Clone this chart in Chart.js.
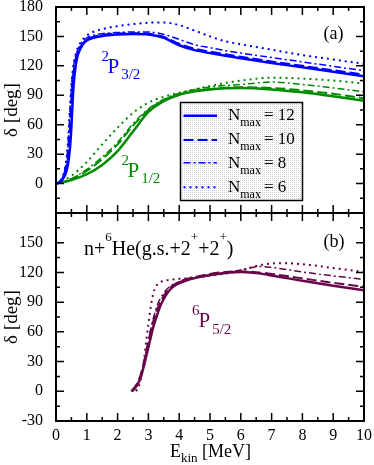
<!DOCTYPE html>
<html><head><meta charset="utf-8">
<script src="https://cdn.jsdelivr.net/npm/chart.js@4/dist/chart.umd.min.js"></script>
<style>
html,body{margin:0;padding:0;background:#fff;}
#wrap{position:relative;width:374px;height:465px;background:#fff;}
canvas{position:absolute;left:0;top:0;}
</style></head><body>
<div id="wrap"><canvas id="ca" width="374" height="465"></canvas><canvas id="cb" width="374" height="465"></canvas></div>
<script>
// ---------- data ----------
const xTicks = [0,1,2,3,4,5,6,7,8,9,10];
const yTicks = [-30,0,30,60,90,120,150,180];

// panel (a) 2P3/2 (blue)
const eBlue   = [0,0.1,0.2,0.3,0.35,0.4,0.45,0.5,0.55,0.6,0.65,0.7,0.8,0.9,1.0,1.2,1.5,2,2.5,3,3.5,4,4.5,5,5.5,6,7,8,9,10];
const p32_n12 = [0,1,4,9,14,22,35,58,90,110,122,130,138,143,146,148.5,150.5,152,152.5,152,148.5,141,136,133,130.3,127.8,123,118.5,114,109.5];
const p32_n10 = [0,1.2,5,12,19,32,55,85,108,120,128,134,140,144,147,149.5,151.5,153,153.3,152.8,149.5,142.5,137.5,134.5,131.8,129.3,124.5,120,115.5,111];
const p32_n8  = [0,1.5,6,16,26,45,72,98,115,125,131,136,142,146,148.5,151,152.8,154,154.5,154.5,152,147,141.5,138.5,135.5,133,128.5,124,119.5,115];
const p32_n6  = [0,1.5,6,17,28,48,75,100,117,127,133,138,144,148,151,154.5,157.5,160.5,162.5,164,164.3,161.5,156,150,145,142,136.5,131,126.5,122];

// panel (a) 2P1/2 (green)
const eGreen  = [0,0.5,1,1.5,2,2.5,3,3.5,4,4.5,5,5.5,6,7,8,9,10];
const p12_n12 = [0,3.5,9.5,19,33,53,73,84,90.5,94,96,97.2,97.5,96,93,89,84.5];
const p12_n10 = [0,4.5,13,25,40,59,75,85,91,94.5,96.5,97.8,98.2,97.5,95,91.5,87];
const p12_n8  = [0,5,14.5,27,42,61,76,86,92,96,98.5,100,101,103.5,101,97.5,93.5];
const p12_n6  = [0,8,22,40,57,72,82.5,88.5,92.5,96,99.5,102.5,105,108,107,105,102];

// panel (b) 6P5/2 (maroon)
const ePurple = [2.45,2.55,2.65,2.75,2.85,2.95,3.05,3.15,3.25,3.4,3.55,3.7,3.9,4.2,4.6,5,5.5,6,6.5,7,8,9,10];
const p52_n12 = [0,3,7,14,25,38,51,64,74,87,96,102.5,107.5,111.5,115,117.5,119.5,120.5,119.3,117,111.5,106.5,102];
const p52_n10 = [0,4,9,17,29,43,57,70,80,91,99,104.5,109,113,116,118.5,120.5,121,120.2,118.5,114,109.5,105.5];
const eP8     = [2.5,2.6,2.7,2.8,2.9,3.0,3.1,3.2,3.3,3.45,3.6,3.8,4.0,4.3,4.6,5,5.5,6,6.3,6.6,7,8,9,10];
const p52_n8  = [0,4,11,22,36,51,66,78,88,97,103,108,110.5,113,115,117.5,120,122.5,124.5,126,125,120.5,116.5,113];
const eP6     = [2.6,2.7,2.78,2.85,2.92,3.0,3.08,3.16,3.25,3.35,3.5,3.75,4,4.5,5,5.5,6,6.5,7,7.5,8,9,10];
const p52_n6  = [0,6,16,30,48,68,86,99,106,109.5,111.5,112.8,113.5,115,116.8,118.8,122,126.5,129,129.3,128.3,124.5,120.5];

const legendLabels = ['12','10','8','6'];

// ---------- styles ----------
const FONT = '"Liberation Serif", "Times New Roman", serif';
const BLUE = '#0000ff', GREEN = '#008b00', MAROON = '#670748';
const STYLES = [
  {w:2.5, dash:[]},
  {w:2,   dash:[10,4]},
  {w:1.5, dash:[7,3,2,3]},
  {w:2,   dash:[2,4]}
];

function pts(xs, ys){ return xs.map((x,i)=>({x:x, y:ys[i]})); }
function ds(xs, ys, color, k){
  return {data: pts(xs, ys), borderColor: color, borderWidth: STYLES[k].w, borderDash: STYLES[k].dash,
          pointRadius: 0, fill: false, cubicInterpolationMode: 'monotone', borderCapStyle: 'butt'};
}

function rich(ctx, x, y, parts, color){
  ctx.fillStyle = color; ctx.textBaseline = 'alphabetic'; ctx.textAlign = 'left';
  let cx = x;
  for (const p of parts){
    ctx.font = p.s + 'px ' + FONT;
    cx += (p.dx || 0);
    ctx.fillText(p.t, cx, y + (p.dy || 0));
    cx += ctx.measureText(p.t).width;
  }
}

const frameTicks = {
  id: 'frameTicks',
  afterDatasetsDraw(chart){
    const {ctx, chartArea: a, scales: {x, y}} = chart;
    ctx.save();
    ctx.strokeStyle = '#000'; ctx.lineWidth = 1.5; ctx.setLineDash([]);
    ctx.beginPath();
    for (let i = 0; i <= 20; i++){
      const v = i * 0.5, px = x.getPixelForValue(v), L = (i % 2 === 0) ? 8 : 4;
      ctx.moveTo(px, a.bottom); ctx.lineTo(px, a.bottom - L);
      ctx.moveTo(px, a.top); ctx.lineTo(px, a.top + L);
    }
    for (let v = -30; v <= 180; v += 15){
      const py = y.getPixelForValue(v), L = (v % 30 === 0) ? 8 : 4;
      ctx.moveTo(a.left, py); ctx.lineTo(a.left + L, py);
      ctx.moveTo(a.right, py); ctx.lineTo(a.right - L, py);
    }
    ctx.stroke();
    ctx.lineWidth = 2;
    ctx.strokeRect(a.left, a.top, a.right - a.left, a.bottom - a.top);
    ctx.restore();
  }
};

function makePattern(){
  const c = document.createElement('canvas'); c.width = 2; c.height = 2;
  const g = c.getContext('2d');
  g.fillStyle = '#fff'; g.fillRect(0,0,2,2);
  g.fillStyle = '#cfcfcf'; g.fillRect(0,0,1,1);
  return c;
}

const annotA = {
  id: 'annotA',
  afterDraw(chart){
    const ctx = chart.ctx;
    ctx.save();
    ctx.fillStyle = ctx.createPattern(makePattern(), 'repeat');
    ctx.fillRect(180.5, 102.5, 122, 98);
    ctx.strokeStyle = '#000'; ctx.lineWidth = 1.5;
    ctx.strokeRect(180.5, 102.5, 122, 98);
    const lineY = [115.7, 140, 162.7, 187.3];
    const textY = [120, 144.3, 168.3, 191.7];
    for (let k = 0; k < 4; k++){
      ctx.strokeStyle = BLUE; ctx.lineWidth = STYLES[k].w; ctx.setLineDash(STYLES[k].dash);
      ctx.beginPath(); ctx.moveTo(183.5, lineY[k]); ctx.lineTo(217, lineY[k]); ctx.stroke();
      ctx.setLineDash([]);
      rich(ctx, 228, textY[k], [{t:'N', s:17}, {t:'max', s:12, dy:6, dx:0}, {t:'= ' + legendLabels[k], s:17, dx:3}], '#000');
    }
    ctx.fillStyle = '#000'; ctx.font = '18px ' + FONT;
    ctx.fillText('(a)', 323.5, 38.5);
    rich(ctx, 101.5, 73.3, [{t:'2', s:15, dy:-12}, {t:'P', s:21, dx:-1.5}, {t:'3/2', s:15, dy:6, dx:2}], BLUE);
    rich(ctx, 121.5, 176.7, [{t:'2', s:15, dy:-12}, {t:'P', s:21, dx:-1.5}, {t:'1/2', s:15, dy:6, dx:2}], GREEN);
    ctx.restore();
  }
};

const annotB = {
  id: 'annotB',
  afterDraw(chart){
    const ctx = chart.ctx;
    ctx.save();
    ctx.fillStyle = '#000'; ctx.font = '18px ' + FONT;
    ctx.fillText('(b)', 323.5, 246.5);
    rich(ctx, 84, 255, [{t:'n+', s:20}, {t:'6', s:13, dy:-14}, {t:'He(g.s.+2', s:20}, {t:'+', s:13, dy:-14}, {t:'+2', s:20}, {t:'+', s:13, dy:-14}, {t:')', s:20}], '#000');
    rich(ctx, 192, 326.7, [{t:'6', s:15, dy:-12}, {t:'P', s:21, dx:-1}, {t:'5/2', s:15, dy:7, dx:2}], MAROON);
    rich(ctx, 170, 457, [{t:'E', s:18}, {t:'kin', s:13, dy:5}, {t:' [MeV]', s:18}], '#000');
    ctx.restore();
  }
};

function options(panel){
  return {
    responsive: false, animation: false, devicePixelRatio: 1,
    layout: {padding: panel === 'a' ? {top:7, bottom:252, left:0, right:10} : {top:213, bottom:0, left:0, right:10}},
    plugins: {legend: {display:false}, tooltip: {enabled:false}},
    scales: {
      x: {type:'linear', min:0, max:10, display: panel === 'b',
          grid:{display:false}, border:{display:false},
          afterBuildTicks: (s) => { s.ticks = xTicks.map(v => ({value: v})); },
          ticks:{padding:-3, color:'#000', font:{family:FONT, size:16}, maxRotation:0, autoSkip:false},
          afterFit: (s) => { if (panel === 'b') s.height = 44; else s.height = 0; s.paddingLeft = 0; s.paddingRight = 0; }},
      y: {type:'linear', min:-30, max:180,
          grid:{display:false}, border:{display:false},
          afterBuildTicks: (s) => { s.ticks = yTicks.map(v => ({value: v})); },
          ticks:{padding:5, color:'#000', font:{family:FONT, size:16}, autoSkip:false,
                 callback: (v) => (panel === 'a' && v === -30) || (panel === 'b' && v === 180) ? '' : String(v)},
          title:{display:true, text:'δ [deg]', color:'#000', font:{family:FONT, size:19}, padding:{top:1, bottom:0}},
          afterFit: (s) => { s.width = 56; s.paddingTop = 0; s.paddingBottom = 0; }}
    }
  };
}

new Chart(document.getElementById('ca'), {
  type: 'line',
  data: {datasets: [
    ds(eBlue, p32_n12, BLUE, 0), ds(eBlue, p32_n10, BLUE, 1), ds(eBlue, p32_n8, BLUE, 2), ds(eBlue, p32_n6, BLUE, 3),
    ds(eGreen, p12_n12, GREEN, 0), ds(eGreen, p12_n10, GREEN, 1), ds(eGreen, p12_n8, GREEN, 2), ds(eGreen, p12_n6, GREEN, 3)
  ]},
  options: options('a'),
  plugins: [frameTicks, annotA]
});

new Chart(document.getElementById('cb'), {
  type: 'line',
  data: {datasets: [
    ds(ePurple, p52_n12, MAROON, 0), ds(ePurple, p52_n10, MAROON, 1), ds(eP8, p52_n8, MAROON, 2), ds(eP6, p52_n6, MAROON, 3)
  ]},
  options: options('b'),
  plugins: [frameTicks, annotB]
});
</script>
</body></html>
